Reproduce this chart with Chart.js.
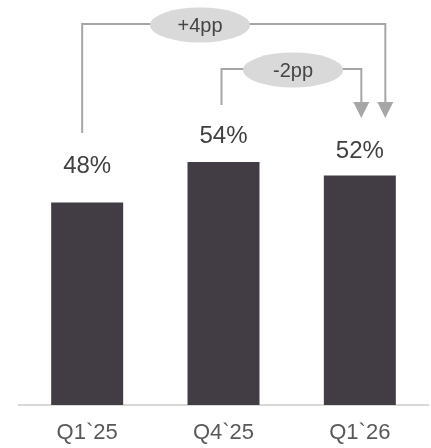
<!DOCTYPE html>
<html>
<head>
<meta charset="utf-8">
<script src="https://cdn.jsdelivr.net/npm/chart.js@4/dist/chart.umd.min.js"></script>
<style>
  html, body { margin: 0; padding: 0; background: #ffffff; }
  #c { display: block; }
</style>
</head>
<body>
<canvas id="c" width="431" height="448"></canvas>
<script>
// Quarterly share, in percent
const quarters = ["Q1`25", "Q4`25", "Q1`26"];
const shares = [48, 54, 52];

const BAR_COLOR = "#423d44";
const LINE_COLOR = "#a6a6a6";
const BUBBLE_COLOR = "#d9d9d9";

function ppLabel(diff) {
  return (diff > 0 ? "+" : "") + diff + "pp";
}

// Value labels above each bar
const valueLabels = {
  id: "valueLabels",
  afterDatasetsDraw(chart, args, opts) {
    const ctx = chart.ctx;
    const meta = chart.getDatasetMeta(0);
    ctx.save();
    ctx.font = opts.font;
    ctx.fillStyle = opts.color;
    ctx.textAlign = "center";
    ctx.textBaseline = "middle";
    meta.data.forEach((bar, i) => {
      ctx.fillText(shares[i] + "%", bar.x, bar.y - opts.lift[i]);
    });
    ctx.restore();
  }
};

// Change brackets: from one bar to the last bar, with a bubble showing the change
const changeBrackets = {
  id: "changeBrackets",
  afterDraw(chart, args, opts) {
    const ctx = chart.ctx;
    const xs = chart.scales.x;
    const last = shares.length - 1;
    ctx.save();
    opts.items.forEach(item => {
      const x0 = xs.getPixelForValue(item.from) + item.dxFrom;
      const x1 = xs.getPixelForValue(last) + item.dxTo;
      const yTop = item.yTop;
      ctx.strokeStyle = LINE_COLOR;
      ctx.lineWidth = 2;
      ctx.beginPath();
      ctx.moveTo(x0, item.yStart);
      ctx.lineTo(x0, yTop);
      ctx.lineTo(x1, yTop);
      ctx.lineTo(x1, opts.arrowTip - opts.arrowLen + 1);
      ctx.stroke();
      // arrow head
      ctx.fillStyle = LINE_COLOR;
      ctx.beginPath();
      ctx.moveTo(x1 - opts.arrowHalf, opts.arrowTip - opts.arrowLen);
      ctx.lineTo(x1 + opts.arrowHalf, opts.arrowTip - opts.arrowLen);
      ctx.lineTo(x1, opts.arrowTip);
      ctx.closePath();
      ctx.fill();
      // bubble
      const cx = item.bubbleX;
      const cy = yTop + 1;
      ctx.fillStyle = BUBBLE_COLOR;
      ctx.beginPath();
      ctx.ellipse(cx, cy, 50, 17.5, 0, 0, Math.PI * 2);
      ctx.fill();
      ctx.fillStyle = opts.color;
      ctx.font = opts.font;
      ctx.textAlign = "center";
      ctx.textBaseline = "middle";
      ctx.fillText(ppLabel(shares[last] - shares[item.from]), cx, cy + 1.5);
    });
    ctx.restore();
  }
};

new Chart(document.getElementById("c"), {
  type: "bar",
  data: {
    labels: quarters,
    datasets: [{
      data: shares,
      backgroundColor: BAR_COLOR,
      borderWidth: 0,
      categoryPercentage: 1,
      barPercentage: 0.528
    }]
  },
  options: {
    responsive: false,
    animation: false,
    events: [],
    layout: { padding: { left: 19, right: 3, top: 0, bottom: 0 } },
    plugins: {
      legend: { display: false },
      tooltip: { enabled: false },
      valueLabels: {
        font: "24px 'Liberation Sans', Arial, sans-serif",
        color: "#404040",
        lift: [36, 26, 24]
      },
      changeBrackets: {
        font: "20px 'Liberation Sans', Arial, sans-serif",
        color: "#454545",
        arrowTip: 118,
        arrowLen: 16,
        arrowHalf: 8,
        items: [
          { from: 0, dxFrom: -5, dxTo: 25.5, yStart: 133, yTop: 24, bubbleX: 200 },
          { from: 1, dxFrom: -2, dxTo: 1.5, yStart: 105, yTop: 69, bubbleX: 293 }
        ]
      }
    },
    scales: {
      x: {
        afterFit(scale) { scale.height = 43; },
        grid: { display: false, drawTicks: false },
        border: { display: true, color: "#d9d9d9", width: 2 },
        ticks: {
          color: "#595959",
          font: { family: "'Liberation Sans', Arial, sans-serif", size: 22 },
          padding: 15
        }
      },
      y: {
        display: false,
        min: 18,
        max: 78
      }
    }
  },
  plugins: [valueLabels, changeBrackets]
});
</script>
</body>
</html>
